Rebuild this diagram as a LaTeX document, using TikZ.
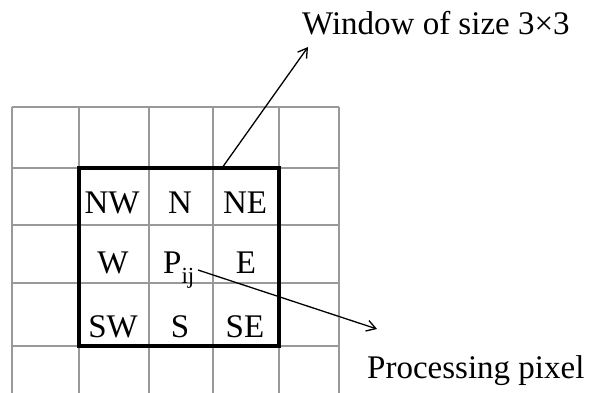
\documentclass[tikz,border=0pt]{standalone}
\usepackage{fontspec}
\setmainfont{Liberation Serif}
\usetikzlibrary{arrows.meta}
\begin{document}
\begin{tikzpicture}[x=1pt,y=-1pt,
  gridline/.style={draw=black!40,line width=1.4pt},
  winbox/.style={draw=black,line width=3.5pt},
  cell/.style={anchor=base,inner sep=0pt,font=\fontsize{33}{38}\selectfont},
  lbl/.style={anchor=base west,inner sep=0pt,font=\fontsize{33}{38}\selectfont},
  pointer/.style={line width=1.3pt,-{Straight Barb[length=9pt,width=11pt,line width=1.3pt]}}]
\useasboundingbox[fill=white] (0,0) rectangle (592,393);
% grid
\foreach \x in {12,79,149,213,279,339} \draw[gridline] (\x,107) -- (\x,393);
\foreach \y in {107,168,225,283,346} \draw[gridline] (12,\y) -- (339,\y);
% window
\draw[winbox] (79,168) rectangle (279,346);
\coordinate (wtop) at (222,168);
% cells
\node[cell] (nw) at (112,213) {NW};
\node[cell] (n)  at (180,213) {N};
\node[cell] (ne) at (245,213) {NE};
\node[cell] (w)  at (113,273) {W};
\node[cell,anchor=base west] (p) at (163,273) {P\raisebox{-10pt}{\fontsize{23}{23}\selectfont ij}};
\node[cell] (e)  at (246,273) {E};
\node[cell] (sw) at (113,337) {SW};
\node[cell] (s)  at (180,337) {S};
\node[cell] (se) at (245,337) {SE};
% labels
\node[lbl] (title) at (302,35) {Window of size 3×3};
\node[lbl] (proc) at (367,378) {Processing pixel};
\coordinate (t1) at (308,47);
\coordinate (t2) at (377,329);
\coordinate (pstart) at (198,270);
\draw[pointer] (wtop) -- (t1);
\draw[pointer] (pstart) -- (t2);
\end{tikzpicture}
\end{document}
